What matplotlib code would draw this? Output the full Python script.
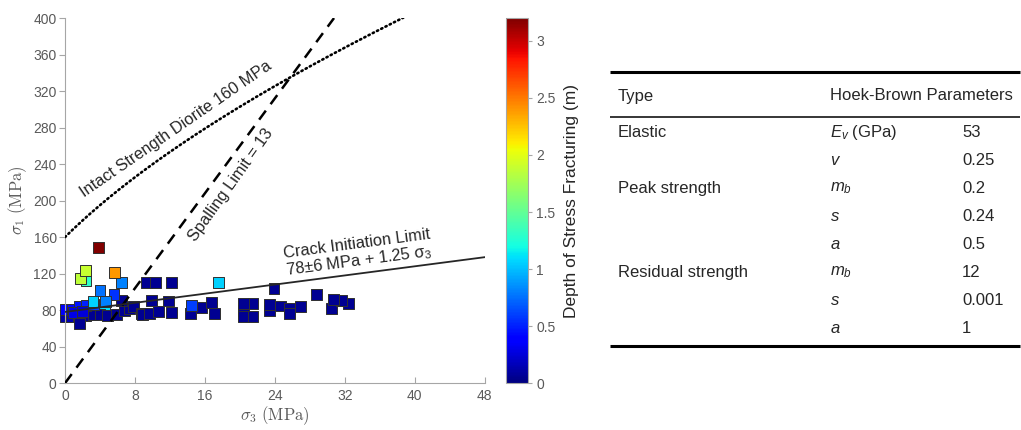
import matplotlib.pyplot as plt
import numpy as np
from matplotlib.colors import Normalize

plt.rcParams['font.family'] = ['Liberation Sans', 'DejaVu Sans']
plt.rcParams['mathtext.fontset'] = 'custom'
plt.rcParams['mathtext.rm'] = 'Liberation Sans'
plt.rcParams['mathtext.it'] = 'Liberation Sans:italic'

# observations: confinement sigma3 (MPa), peak stress sigma1 (MPa), depth of stress fracturing (m)
sigma3 = [4.5,
          0.0, 0.7, 1.5, 2.4, 3.2, 4.0, 4.9, 5.9, 1.7, 6.8, 7.4, 7.8, 8.7, 8.9,
          9.7, 10.7, 12.2, 14.3, 15.6, 17.1, 20.4, 20.4, 21.5, 23.4, 23.4, 24.6,
          25.7, 25.7, 26.9, 30.5, 32.4, 31.6, 30.7, 28.8, 23.9, 21.5, 20.4, 16.8,
          11.8, 9.9, 6.5, 9.3, 10.3, 12.2,
          0.0, 0.9, 1.7, 2.4, 1.0, 2.0, 3.3,
          14.5, 5.6, 4.0, 4.6, 6.5, 3.2, 17.6, 2.4, 1.8, 2.3, 5.7, 3.8]
sigma1 = [81,
          73, 73, 74.5, 74.5, 75, 75, 74.5, 75, 65.5, 80, 82, 83.5, 76.5, 75,
          76.5, 78, 77.5, 76.5, 82.5, 76, 80, 73.5, 73.5, 80, 86.5, 84.5,
          82, 76.5, 83.5, 82, 87, 91, 92, 97, 104, 87.5, 87.5, 88.5,
          90, 91, 91, 110, 110, 110,
          81, 81, 83.5, 85, 77, 78, 86,
          85, 97, 101, 89, 110, 89, 110, 112, 115, 123, 121, 149]
depth = [1.1,
         0.1, 0.15, 0.1, 0.05, 0.05, 0.05, 0.05, 0.05, 0.05, 0.05, 0.05, 0.05, 0.05, 0.05,
         0.05, 0.05, 0.05, 0.05, 0.05, 0.05, 0.05, 0.05, 0.05, 0.05, 0.05, 0.05,
         0.05, 0.05, 0.05, 0.05, 0.05, 0.05, 0.05, 0.05, 0.05, 0.05, 0.05, 0.05,
         0.05, 0.05, 0.05, 0.05, 0.05, 0.05,
         0.35, 0.4, 0.45, 0.5, 0.3, 0.25, 0.6,
         0.6, 0.55, 0.75, 0.8, 0.8, 1.05, 1.05, 1.3, 1.85, 1.9, 2.4, 3.2]

# strength envelopes
ucs = 160            # intact strength of diorite, MPa
m_i = 17             # Hoek-Brown constant for the intact rock
spalling_ratio = 13  # sigma1 / sigma3
ci_base = 78         # crack initiation threshold, MPa
ci_slope = 1.25

# Hoek-Brown parameter table
param_types = ["Elastic", "", "Peak strength", "", "", "Residual strength", "", ""]
param_names = [r"$E_v$ (GPa)", r"$v$", r"$m_b$", r"$s$", r"$a$", r"$m_b$", r"$s$", r"$a$"]
param_values = ["53", "0.25", "0.2", "0.24", "0.5", "12", "0.001", "1"]

grey = "#595959"
ink = "#262626"

fig = plt.figure(figsize=(10.21, 4.30), dpi=100)
ax = fig.add_axes([0.0637, 0.109, 0.411, 0.849])
cax = fig.add_axes([0.4956, 0.109, 0.0215, 0.849])

norm = Normalize(vmin=0, vmax=3.2)
sc = ax.scatter(sigma3, sigma1, c=depth, cmap="jet", norm=norm, marker="s",
                s=62, edgecolors="#303030", linewidths=0.7, zorder=2, clip_on=False)

# intact strength (Hoek-Brown), spalling limit and crack initiation limit
s3_hb = np.linspace(0, 38.7, 300)
s1_hb = s3_hb + ucs * np.sqrt(m_i * s3_hb / ucs + 1)
ax.plot(s3_hb, s1_hb, color="black", lw=1.9, linestyle=(0, (0.5, 1.3)),
        dash_capstyle="round", zorder=3)

s3_sp = np.array([0, 400 / spalling_ratio])
ax.plot(s3_sp, spalling_ratio * s3_sp, color="black", lw=1.8,
        linestyle=(0, (4.5, 3.2)), zorder=3)

s3_ci = np.array([0, 48])
ax.plot(s3_ci, ci_base + ci_slope * s3_ci, color=ink, lw=1.3, zorder=3)

ax.text(12.7, 278, "Intact Strength Diorite 160 MPa", rotation=34.5,
        rotation_mode="anchor", ha="center", va="center", fontsize=11.8, color=ink)
ax.text(19.0, 217, "Spalling Limit = 13", rotation=54.5,
        rotation_mode="anchor", ha="center", va="center", fontsize=11.8, color=ink)
ax.text(33.5, 142, "Crack Initiation Limit\n78±6 MPa + 1.25 σ$_3$", rotation=7.5,
        rotation_mode="anchor", ha="center", va="center", fontsize=11.8,
        color=ink, linespacing=1.0)

ax.set_xlim(0, 48)
ax.set_ylim(0, 400)
ax.set_xticks(np.arange(0, 49, 8))
ax.set_yticks(np.arange(0, 401, 40))
for side in ["top", "right"]:
    ax.spines[side].set_visible(False)
for side in ["left", "bottom"]:
    ax.spines[side].set_color("#a6a6a6")
ax.tick_params(axis="x", direction="in", length=4, color="#a6a6a6",
               labelcolor=grey, labelsize=10, pad=4)
ax.tick_params(axis="y", direction="out", length=4, color="#a6a6a6",
               labelcolor=grey, labelsize=10, pad=2)
ax.set_xlabel(r"$\sigma_3\ \mathrm{(MPa)}$", math_fontfamily="cm",
              fontsize=12, color=grey, labelpad=1)
ax.set_ylabel(r"$\sigma_1\ \mathrm{(MPa)}$", math_fontfamily="cm",
              fontsize=12, color=grey, labelpad=3)

cb = fig.colorbar(sc, cax=cax, ticks=[0, 0.5, 1, 1.5, 2, 2.5, 3], format="%g")
cb.outline.set_edgecolor("#a6a6a6")
cb.outline.set_linewidth(0.8)
cax.tick_params(length=3, color="#a6a6a6", labelcolor=grey, labelsize=10, pad=3)
cb.set_label("Depth of Stress Fracturing (m)", fontsize=12.5, color=ink, labelpad=6)

# parameter table, laid out in pixel coordinates
tab = fig.add_axes([0, 0, 1, 1])
tab.set_xlim(0, 1021)
tab.set_ylim(430, 0)
tab.axis("off")
tab.hlines([72, 346], 610, 1020, color="black", lw=2.2)
tab.hlines(117, 610, 1020, color=ink, lw=1.3)
fs = 12
tab.text(618, 96, "Type", fontsize=fs, color=ink, va="center")
tab.text(830, 96, "Hoek-Brown Parameters", fontsize=fs, color=ink, va="center")
row_y = 132.5
for kind, name, value in zip(param_types, param_names, param_values):
    tab.text(618, row_y, kind, fontsize=fs, color=ink, va="center")
    tab.text(830, row_y, name, fontsize=fs, color=ink, va="center")
    tab.text(962, row_y, value, fontsize=fs, color=ink, va="center")
    row_y += 28.0

fig.savefig("out.png", dpi=100)
